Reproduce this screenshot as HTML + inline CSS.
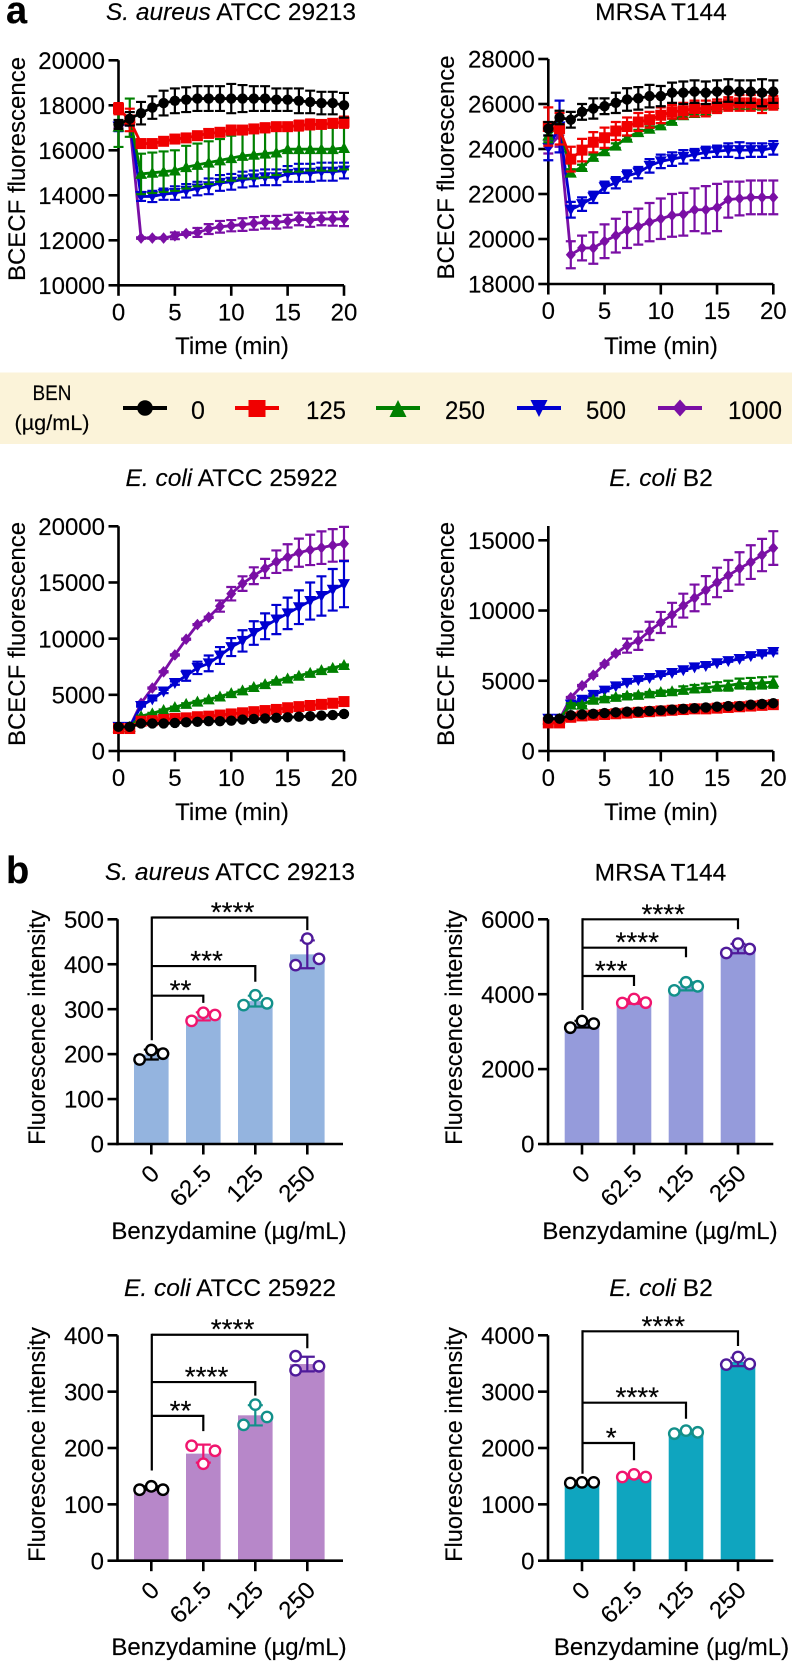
<!DOCTYPE html>
<html lang="en">
<head>
<meta charset="utf-8">
<title>BCECF and fluorescence intensity charts</title>
<style>
html,body{margin:0;padding:0;background:#fff;}
svg{display:block;}
text{font-family:"Liberation Sans",Arial,sans-serif;fill:#000;stroke:#000;stroke-width:0.15px;}
</style>
</head>
<body>
<svg id="figure" xmlns="http://www.w3.org/2000/svg" width="792" height="1662" viewBox="0 0 792 1662">
  <rect x="0" y="0" width="792" height="1662" fill="#fff"/>
  <text x="6" y="23" font-size="38" font-weight="bold">a</text>
  <text x="6" y="883" font-size="38" font-weight="bold">b</text>

  <g id="a1">
    <text x="231" y="20" font-size="24.5" text-anchor="middle"><tspan font-style="italic">S. aureus</tspan> ATCC 29213</text>
    <text transform="translate(25,169) rotate(-90)" font-size="24" text-anchor="middle">BCECF fluorescence</text>
    <text x="232" y="354" font-size="24" text-anchor="middle">Time (min)</text>
  </g>
  <g id="a2">
    <text x="661" y="20" font-size="24.5" text-anchor="middle">MRSA T144</text>
    <text transform="translate(454,167.5) rotate(-90)" font-size="24" text-anchor="middle">BCECF fluorescence</text>
    <text x="661" y="354" font-size="24" text-anchor="middle">Time (min)</text>
  </g>

  <g>
    <rect x="0" y="372.5" width="792" height="71.5" fill="#fbf3d9"/>
    <text x="52" y="400" font-size="21" text-anchor="middle" textLength="39" lengthAdjust="spacingAndGlyphs">BEN</text>
    <text x="52" y="430" font-size="21" text-anchor="middle" textLength="75" lengthAdjust="spacingAndGlyphs">(µg/mL)</text>
    <g>
      <line x1="123" y1="408" x2="167" y2="408" stroke="#000" stroke-width="4"/>
      <circle cx="145" cy="408" r="7.8" fill="#000"/>
      <text x="198" y="419" font-size="25" text-anchor="middle">0</text>
    </g>
    <g>
      <line x1="235" y1="408" x2="279" y2="408" stroke="#f00000" stroke-width="4"/>
      <rect x="248.5" y="400" width="17" height="17" fill="#f00000"/>
      <text x="326" y="419" font-size="25" text-anchor="middle" textLength="40" lengthAdjust="spacingAndGlyphs">125</text>
    </g>
    <g>
      <line x1="376" y1="408" x2="420" y2="408" stroke="#008000" stroke-width="4"/>
      <polygon points="398,400 406.5,417 389.5,417" fill="#008000"/>
      <text x="465" y="419" font-size="25" text-anchor="middle" textLength="40" lengthAdjust="spacingAndGlyphs">250</text>
    </g>
    <g>
      <line x1="517" y1="408" x2="561" y2="408" stroke="#0000d0" stroke-width="4"/>
      <polygon points="530.5,400 547.5,400 539,417" fill="#0000d0"/>
      <text x="606" y="419" font-size="25" text-anchor="middle" textLength="40" lengthAdjust="spacingAndGlyphs">500</text>
    </g>
    <g>
      <line x1="658" y1="408" x2="702" y2="408" stroke="#7a0fa5" stroke-width="4"/>
      <polygon points="680,399.5 687.5,408 680,416.5 672.5,408" fill="#7a0fa5"/>
      <text x="755" y="419" font-size="25" text-anchor="middle" textLength="54" lengthAdjust="spacingAndGlyphs">1000</text>
    </g>
  </g>

  <g id="a3">
    <text x="231.5" y="486" font-size="24.5" text-anchor="middle"><tspan font-style="italic">E. coli</tspan> ATCC 25922</text>
    <text transform="translate(25,634) rotate(-90)" font-size="24" text-anchor="middle">BCECF fluorescence</text>
    <text x="232" y="820" font-size="24" text-anchor="middle">Time (min)</text>
  </g>
  <g id="a4">
    <text x="661" y="486" font-size="24.5" text-anchor="middle"><tspan font-style="italic">E. coli</tspan> B2</text>
    <text transform="translate(454,634) rotate(-90)" font-size="24" text-anchor="middle">BCECF fluorescence</text>
    <text x="661" y="820" font-size="24" text-anchor="middle">Time (min)</text>
  </g>

  <g id="b1">
    <text x="230" y="880" font-size="24.5" text-anchor="middle"><tspan font-style="italic">S. aureus</tspan> ATCC 29213</text>
    <text transform="translate(45,1027.5) rotate(-90)" font-size="23.6" text-anchor="middle">Fluorescence intensity</text>
    <text x="229" y="1239" font-size="24" text-anchor="middle">Benzydamine (µg/mL)</text>
  </g>
  <g id="b2">
    <text x="660.5" y="880.5" font-size="24.5" text-anchor="middle">MRSA T144</text>
    <text transform="translate(462,1027.5) rotate(-90)" font-size="23.6" text-anchor="middle">Fluorescence intensity</text>
    <text x="660" y="1239" font-size="24" text-anchor="middle">Benzydamine (µg/mL)</text>
  </g>
  <g id="b3">
    <text x="230" y="1296" font-size="24.5" text-anchor="middle"><tspan font-style="italic">E. coli</tspan> ATCC 25922</text>
    <text transform="translate(45,1444.5) rotate(-90)" font-size="23.6" text-anchor="middle">Fluorescence intensity</text>
    <text x="229" y="1655" font-size="24" text-anchor="middle">Benzydamine (µg/mL)</text>
  </g>
  <g id="b4">
    <text x="661" y="1296" font-size="24.5" text-anchor="middle"><tspan font-style="italic">E. coli</tspan> B2</text>
    <text transform="translate(462,1444.5) rotate(-90)" font-size="23.6" text-anchor="middle">Fluorescence intensity</text>
    <text x="671.5" y="1655" font-size="24" text-anchor="middle">Benzydamine (µg/mL)</text>
  </g>
</svg>

<script>
/* ---------- shared categories and ticks ---------- */
const timeMinutes = [0,1,2,3,4,5,6,7,8,9,10,11,12,13,14,15,16,17,18,19,20];
const timeTicks = [0,5,10,15,20];
const doseCategories = ["0","62.5","125","250"];

/* ---------- panel a: S. aureus ATCC 29213 ---------- */
const a1YTicks = [10000,12000,14000,16000,18000,20000];
const a1Ben0 = [17150,17400,17650,17900,18100,18200,18250,18300,18300,18300,18300,18300,18300,18300,18250,18250,18200,18150,18100,18100,18000];
const a1Ben0Err = [200,300,500,500,550,550,550,550,550,550,650,600,550,550,500,500,550,500,500,500,550];
const a1Ben125 = [17850,17350,16300,16300,16400,16500,16550,16650,16750,16800,16900,16900,16950,17000,17050,17050,17100,17150,17150,17200,17250];
const a1Ben125Err = [250,500,120,80,80,100,100,120,100,150,200,120,120,200,150,150,220,220,120,170,250];
const a1Ben250 = [17050,17450,14950,15000,15050,15100,15250,15350,15450,15550,15650,15750,15800,15850,15900,16050,16050,16050,16050,16050,16100];
const a1Ben250Err = [900,850,900,900,900,900,950,950,950,950,1000,1000,1050,1050,1000,1000,1000,950,950,950,950];
const a1Ben500 = [17050,17300,13950,13950,14050,14100,14200,14300,14400,14550,14600,14700,14750,14800,14800,14950,15000,15000,15050,15050,15100];
const a1Ben500Err = [200,200,200,250,250,300,300,300,350,350,350,350,350,350,350,350,400,400,400,400,350];
const a1Ben1000 = [17100,17200,12100,12100,12100,12200,12300,12350,12500,12600,12650,12700,12750,12800,12800,12850,12950,12900,12950,12950,12950];
const a1Ben1000Err = [100,100,30,30,30,150,60,200,220,260,250,280,280,280,280,280,280,300,280,300,320];

/* ---------- panel a: MRSA T144 ---------- */
const a2YTicks = [18000,20000,22000,24000,26000,28000];
const a2Ben0 = [24900,25400,25300,25650,25800,25900,26050,26200,26250,26350,26350,26500,26500,26550,26500,26550,26600,26550,26550,26500,26550];
const a2Ben0Err = [300,300,350,350,450,350,450,500,500,500,450,450,500,500,500,500,500,500,500,600,500];
const a2Ben125 = [25000,24900,23550,23950,24300,24500,24800,25000,25200,25300,25500,25650,25700,25800,25800,25900,26000,26050,26050,26000,26050];
const a2Ben125Err = [850,700,550,500,450,450,400,400,400,350,350,300,350,350,350,300,300,350,350,400,300];
const a2Ben250 = [24600,25100,22950,23200,23650,23900,24150,24500,24750,24900,25050,25250,25500,25600,25700,25850,25950,25950,25950,25950,26000];
const a2Ben250Err = [300,300,150,100,100,100,100,80,100,100,100,100,100,100,150,150,150,150,150,200,200];
const a2Ben500 = [24050,25000,21300,21550,21850,22300,22500,22800,22950,23250,23450,23550,23650,23750,23850,23900,23950,23950,23950,23950,24050];
const a2Ben500Err = [550,1150,350,300,250,250,250,250,250,300,300,300,300,250,250,250,300,350,300,300,300];
const a2Ben1000 = [24100,24600,19300,19600,19600,19900,20150,20400,20550,20750,20900,21050,21100,21300,21300,21400,21750,21800,21850,21850,21850];
const a2Ben1000Err = [300,500,600,550,700,750,750,800,800,850,900,950,950,950,1050,1050,800,750,750,750,750];

/* ---------- panel a: E. coli ATCC 25922 ---------- */
const a3YTicks = [0,5000,10000,15000,20000];
const a3Ben0 = [2150,2150,2450,2450,2450,2500,2550,2600,2650,2650,2700,2800,2850,2900,2950,3000,3050,3100,3150,3200,3300];
const a3Ben0Err = [50,50,50,50,50,50,50,50,50,50,50,50,50,50,50,50,50,50,50,50,50];
const a3Ben125 = [2000,2000,2650,2700,2800,2900,2950,3050,3100,3200,3300,3400,3500,3600,3700,3850,3950,4050,4150,4250,4400];
const a3Ben125Err = [100,100,100,100,100,100,100,100,100,100,100,100,100,100,100,100,100,100,100,100,100];
const a3Ben250 = [2100,2150,3100,3350,3650,3900,4200,4400,4600,4850,5150,5400,5700,5950,6250,6450,6700,6950,7200,7400,7650];
const a3Ben250Err = [50,50,50,50,50,50,50,50,50,50,50,50,50,50,50,50,50,50,50,50,50];
const a3Ben500 = [2150,2150,4000,4600,5300,6050,6700,7400,7800,8500,9250,9800,10500,11100,11700,12250,12800,13350,13800,14350,14850];
const a3Ben500Err = [50,50,50,100,150,150,450,550,700,750,800,950,1050,1150,1300,1400,1500,1650,1750,1850,2050];
const a3Ben1000 = [2100,2150,4250,5600,7050,8550,9950,11250,11900,12900,14000,14900,15600,16250,16850,17250,17650,17900,18100,18300,18450];
const a3Ben1000Err = [50,50,50,50,50,50,50,50,50,500,600,650,750,850,1000,1150,1250,1350,1450,1450,1500];

/* ---------- panel a: E. coli B2 ---------- */
const a4YTicks = [0,5000,10000,15000];
const a4Ben0 = [2300,2300,2550,2600,2650,2700,2750,2800,2800,2850,2900,2950,3000,3050,3100,3150,3200,3200,3300,3350,3400];
const a4Ben0Err = [60,60,60,60,60,60,60,60,60,60,60,60,60,60,60,60,60,60,60,60,60];
const a4Ben125 = [2000,2000,2400,2500,2550,2600,2650,2700,2750,2800,2850,2900,2950,3000,3000,3050,3100,3150,3200,3250,3300];
const a4Ben125Err = [80,80,80,80,80,80,80,80,80,80,80,80,80,80,80,80,80,80,80,80,80];
const a4Ben250 = [2250,2300,3300,3300,3650,3750,3850,3950,4000,4100,4200,4250,4350,4450,4500,4600,4650,4800,4800,4850,4900];
const a4Ben250Err = [50,50,100,100,100,100,100,100,100,100,100,100,250,250,300,300,350,350,400,400,400];
const a4Ben500 = [2300,2300,3300,3650,4000,4300,4600,4850,5050,5200,5400,5550,5750,5950,6050,6250,6400,6550,6750,6900,7050];
const a4Ben500Err = [50,50,50,50,50,50,50,50,50,50,50,50,50,50,50,50,50,50,50,100,100];
const a4Ben1000 = [2200,2250,3800,4650,5400,6200,6950,7500,7850,8550,9150,9700,10350,10900,11450,12000,12500,13000,13450,13950,14450];
const a4Ben1000Err = [50,50,50,50,50,50,50,500,650,650,750,850,850,950,1000,1050,1100,1150,1200,1150,1200];

/* ---------- panel b: bars, replicates, SD ---------- */
const b1YTicks = [0,100,200,300,400,500];
const b1Means = [199,284,318,422];
const b1Sd = [11,9,12,31];
const b1Replicates = [[188,209,201],[274,292,287],[309,331,313],[398,457,412]];
const b1Stars = ["****","***","**"];
const b1BracketLevels = [504,396,330];
const b1BracketDrops = [476,361,314];
const b1BracketEnds = [3,2,1];
const b1BracketFoot = 231;

const b2YTicks = [0,2000,4000,6000];
const b2Means = [3200,3804,4210,5219];
const b2Sd = [90,60,107,125];
const b2Replicates = [[3106,3285,3214],[3765,3872,3774],[4103,4317,4210],[5100,5350,5206]];
const b2Stars = ["****","****","***"];
const b2BracketLevels = [6000,5242,4486];
const b2BracketDrops = [5733,4985,4219];
const b2BracketEnds = [3,2,1];
const b2BracketFoot = 3578;

const b3YTicks = [0,100,200,300,400];
const b3Means = [129,190,258,349];
const b3Sd = [3,16,18,13];
const b3Replicates = [[126,132,126],[204,172,195],[241,277,255],[363,338,345]];
const b3Slots = [[-1,0,1],[-1,0,1],[-1,0,1],[-1,-1,1]];
const b3Stars = ["****","****","**"];
const b3BracketLevels = [401,317,257];
const b3BracketDrops = [377,293,230];
const b3BracketEnds = [3,2,1];
const b3BracketFoot = 160;

const b4YTicks = [0,1000,2000,3000,4000];
const b4Means = [1386,1500,2280,3528];
const b4Sd = [6,27,27,75];
const b4Replicates = [[1379,1390,1390],[1485,1532,1485],[2254,2308,2278],[3479,3615,3491]];
const b4Stars = ["****","****","*"];
const b4BracketLevels = [4071,2804,2089];
const b4BracketDrops = [3810,2520,1782];
const b4BracketEnds = [3,2,1];
const b4BracketFoot = 1544;

const defaultSlots = [[-1,0,1],[-1,0,1],[-1,0,1],[-1,0,1]];

/* ---------- drawing ---------- */
const NS = "http://www.w3.org/2000/svg";
function mk(tag, attrs, parent) {
  const node = document.createElementNS(NS, tag);
  for (const k in attrs) node.setAttribute(k, attrs[k]);
  parent.appendChild(node);
  return node;
}
function linear(d0, d1, r0, r1) {
  return function (v) { return r0 + (v - d0) * (r1 - r0) / (d1 - d0); };
}

function drawAxes(g, o, xTickPos, xLabels, yTicks, y, xLabelMode) {
  let el = mk("line", {x1:o.spineX, y1:o.axisTop, x2:o.spineX, y2:o.axisY + 1.3, stroke:"#000", "stroke-width":2.6}, g);
  
  
  el = mk("line", {x1:o.spineX, y1:o.axisY, x2:o.axisRight, y2:o.axisY, stroke:"#000", "stroke-width":2.6}, g);
  
  
  yTicks.forEach(function (t) {
    let tick = mk("line", {x1:o.spineX - 10, y1:y(t), x2:o.spineX, y2:y(t), stroke:"#000", "stroke-width":2.6}, g);
    
    
    let lab = mk("text", {x:o.spineX - 13.5, y:y(t) + 8.6, "font-size":24, "text-anchor":"end"}, g);
    
    
    lab.textContent = t;
  });
  xTickPos.forEach(function (px, i) {
    let tick = mk("line", {x1:px, y1:o.axisY, x2:px, y2:o.axisY + 10.5, stroke:"#000", "stroke-width":2.6}, g);
    
    
    let lab;
    if (xLabelMode === "rotated") {
      const ax = px + 9.4, ay = o.axisY + 31;
      lab = mk("text", {transform:"translate(" + ax + "," + ay + ") rotate(-45)", "font-size":24, "text-anchor":"end"}, g);
    } else {
      lab = mk("text", {x:px, y:o.axisY + 35, "font-size":24, "text-anchor":"middle"}, g);
    }
    
    
    lab.textContent = xLabels[i];
  });
}

function drawMarker(shape, cx, cy, color, g) {
  let m;
  if (shape === "circle") {
    m = mk("circle", {cx:cx, cy:cy, r:5.2, fill:color}, g);
  } else if (shape === "square") {
    m = mk("rect", {x:cx - 5.5, y:cy - 5.5, width:11, height:11, fill:color}, g);
  } else if (shape === "up") {
    m = mk("polygon", {points:[cx, cy - 6, cx + 6, cy + 5, cx - 6, cy + 5].join(" "), fill:color}, g);
  } else if (shape === "down") {
    m = mk("polygon", {points:[cx - 6, cy - 5, cx + 6, cy - 5, cx, cy + 6].join(" "), fill:color}, g);
  } else {
    m = mk("polygon", {points:[cx, cy - 5.8, cx + 5, cy, cx, cy + 5.8, cx - 5, cy].join(" "), fill:color}, g);
  }
  
  
}

function drawSeries(g, x, y, values, errs, color, shape) {
  values.forEach(function (v, i) {
    const px = x(timeMinutes[i]);
    const hi = y(v + errs[i]), lo = y(v - errs[i]);
    let b = mk("path", {d:"M" + (px - 5) + " " + hi + "H" + (px + 5) + "M" + px + " " + hi + "V" + lo + "M" + (px - 5) + " " + lo + "H" + (px + 5), stroke:color, "stroke-width":2.2, fill:"none"}, g);
    
    
  });
  const pts = values.map(function (v, i) { return x(timeMinutes[i]) + "," + y(v); }).join(" ");
  const line = mk("polyline", {points:pts, stroke:color, "stroke-width":2.8, fill:"none"}, g);
  
  
  values.forEach(function (v, i) {
    drawMarker(shape, x(timeMinutes[i]), y(v), color, g);
  });
}

function lineChart(id, o, yTicks, s) {
  const g = document.getElementById(id);
  const x = linear(0, 20, o.x0, o.x20);
  const y = linear(o.yMin, o.yRef, o.axisY, o.refPx);
  const xPos = timeTicks.map(x);
  o.spineX = o.x0;
  o.axisRight = o.x20;
  drawAxes(g, o, xPos, timeTicks, yTicks, y, "plain");
  drawSeries(g, x, y, s[4][0], s[4][1], "#7a0fa5", "diamond");
  drawSeries(g, x, y, s[3][0], s[3][1], "#0000d0", "down");
  drawSeries(g, x, y, s[2][0], s[2][1], "#008000", "up");
  drawSeries(g, x, y, s[1][0], s[1][1], "#f00000", "square");
  drawSeries(g, x, y, s[0][0], s[0][1], "#000000", "circle");
}

const pointColors = ["#000000","#f0156e","#12908a","#4f1a9a"];

function barChart(id, o, yTicks, means, sds, reps, slots, stars, levels, drops, ends, foot) {
  const g = document.getElementById(id);
  const y = linear(0, o.yRef, o.axisY, o.refPx);
  const x = function (i) { return o.firstTick + i * 52; };
  const xPos = doseCategories.map(function (c, i) { return x(i); });
  means.forEach(function (m, i) {
    const bar = mk("rect", {x:x(i) - 17.3, y:y(m), width:34.6, height:o.axisY - y(m), fill:o.barColor}, g);
    
    
  });
  drawAxes(g, o, xPos, doseCategories, yTicks, y, "rotated");
  means.forEach(function (m, i) {
    const px = x(i), hi = y(m + sds[i]), lo = y(m - sds[i]);
    const eb = mk("path", {d:"M" + (px - 7.5) + " " + hi + "H" + (px + 7.5) + "M" + px + " " + hi + "V" + lo + "M" + (px - 7.5) + " " + lo + "H" + (px + 7.5), stroke:pointColors[i], "stroke-width":2.2, fill:"none"}, g);
    
    
    reps[i].forEach(function (v, j) {
      const c = mk("circle", {cx:px + slots[i][j] * 11.7, cy:y(v), r:5.2, fill:"#fff", stroke:pointColors[i], "stroke-width":2.4}, g);
      
      
    });
  });
  const mainX = x(0) + 0.5;
  const trunk = mk("line", {x1:mainX, y1:y(levels[0]) - 1, x2:mainX, y2:y(foot), stroke:"#000", "stroke-width":2.2}, g);
  
  
  levels.forEach(function (lv, k) {
    const ex = x(ends[k]);
    const path = mk("path", {d:"M" + mainX + " " + y(lv) + "H" + ex + "V" + y(drops[k]), stroke:"#000", "stroke-width":2.2, fill:"none"}, g);
    
    
    const st = mk("text", {x:(mainX + ex) / 2 + 3, y:y(lv) + 4, "font-size":28, "text-anchor":"middle"}, g);
    
    
    st.textContent = stars[k];
  });
}

lineChart("a1", {x0:118.5, x20:344, axisTop:60.3, axisY:285.3, refPx:60.3, yMin:10000, yRef:20000}, a1YTicks,
  [[a1Ben0,a1Ben0Err],[a1Ben125,a1Ben125Err],[a1Ben250,a1Ben250Err],[a1Ben500,a1Ben500Err],[a1Ben1000,a1Ben1000Err]]);
lineChart("a2", {x0:548.3, x20:773.3, axisTop:59, axisY:284, refPx:59, yMin:18000, yRef:28000}, a2YTicks,
  [[a2Ben0,a2Ben0Err],[a2Ben125,a2Ben125Err],[a2Ben250,a2Ben250Err],[a2Ben500,a2Ben500Err],[a2Ben1000,a2Ben1000Err]]);
lineChart("a3", {x0:118.5, x20:344, axisTop:526.3, axisY:751, refPx:526.3, yMin:0, yRef:20000}, a3YTicks,
  [[a3Ben0,a3Ben0Err],[a3Ben125,a3Ben125Err],[a3Ben250,a3Ben250Err],[a3Ben500,a3Ben500Err],[a3Ben1000,a3Ben1000Err]]);
lineChart("a4", {x0:548.3, x20:773.3, axisTop:526, axisY:751, refPx:540.3, yMin:0, yRef:15000}, a4YTicks,
  [[a4Ben0,a4Ben0Err],[a4Ben125,a4Ben125Err],[a4Ben250,a4Ben250Err],[a4Ben500,a4Ben500Err],[a4Ben1000,a4Ben1000Err]]);

barChart("b1", {spineX:117.5, axisRight:343, axisTop:919.3, axisY:1144, refPx:919.3, yRef:500, firstTick:151.3, barColor:"#94b4df"},
  b1YTicks, b1Means, b1Sd, b1Replicates, defaultSlots, b1Stars, b1BracketLevels, b1BracketDrops, b1BracketEnds, b1BracketFoot);
barChart("b2", {spineX:548, axisRight:773.3, axisTop:919.3, axisY:1144, refPx:919.3, yRef:6000, firstTick:582, barColor:"#959bdb"},
  b2YTicks, b2Means, b2Sd, b2Replicates, defaultSlots, b2Stars, b2BracketLevels, b2BracketDrops, b2BracketEnds, b2BracketFoot);
barChart("b3", {spineX:117.5, axisRight:343, axisTop:1335.3, axisY:1560.7, refPx:1335.3, yRef:400, firstTick:151.3, barColor:"#b787c9"},
  b3YTicks, b3Means, b3Sd, b3Replicates, b3Slots, b3Stars, b3BracketLevels, b3BracketDrops, b3BracketEnds, b3BracketFoot);
barChart("b4", {spineX:548, axisRight:773.3, axisTop:1335.3, axisY:1560.7, refPx:1335.3, yRef:4000, firstTick:582, barColor:"#0fa5bf"},
  b4YTicks, b4Means, b4Sd, b4Replicates, defaultSlots, b4Stars, b4BracketLevels, b4BracketDrops, b4BracketEnds, b4BracketFoot);
</script>
</body>
</html>
